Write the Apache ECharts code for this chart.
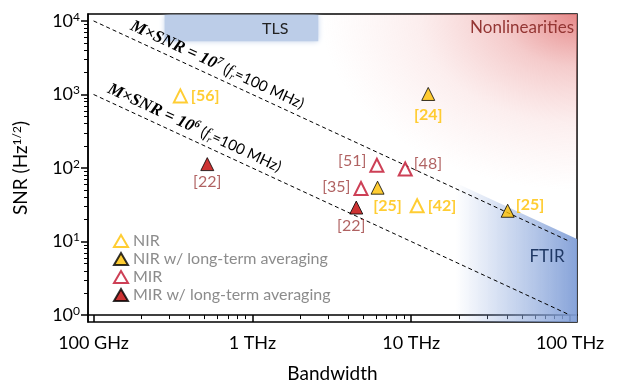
<!DOCTYPE html>
<html>
<head>
<meta charset="utf-8">
<script src="https://cdn.jsdelivr.net/npm/echarts@6/dist/echarts.min.js"></script>
<style>
  html, body { margin: 0; padding: 0; background: #fff; }
  #chart { width: 624px; height: 388px; }
</style>
</head>
<body>
<div id="chart"></div>
<script>
// bandwidth in THz, SNR in Hz^1/2
const nirOpenBw = [0.352, 10.9];
const nirOpenSnr = [955, 30.6];
const nirOpenRefs = ['[56]', '[42]'];

const nirAvgBw = [12.8, 6.14, 40.5];
const nirAvgSnr = [1016, 54, 26.2];
const nirAvgRefs = ['[24]', '[25]', '[25]'];

const mirOpenBw = [6.08, 9.17, 4.83];
const mirOpenSnr = [109, 97, 52.7];
const mirOpenRefs = ['[51]', '[48]', '[35]'];

const mirAvgBw = [0.52, 4.51];
const mirAvgSnr = [113, 29];
const mirAvgRefs = ['[22]', '[22]'];

// M x SNR guide lines (fr = 100 MHz)
const guideProducts = [1e7, 1e6];
const guideExps = ['7', '6'];
const guideBwRange = [0.1, 100]; // THz
const repRate = 1e8;

const xTickVals = [11, 12, 13, 14];
const xTickLabels = ['100 GHz', '1 THz', '10 THz', '100 THz'];
const yTickVals = [0, 1, 2, 3, 4];

// shaded regimes
const tlsBw = [0.28, 2.6];      // THz
const tlsSnrFloor = 5300;
const ftirBwStart = 19;         // THz
const ftirEdgeProduct = 1.2e7;
const nlFadeTopBw = 2.7;        // THz, red fades out along top edge here
const nlFadeRightSnr = 50;      // red fades out along right edge here

const xMin = 10.965, xMax = 14.044, yMin = -0.094, yMax = 4.094;
const lg = Math.log10;
const fontSans = 'Lato';

const minorX = [];
const minorY = [];
for (let d = 11; d < 14; d++) for (let k = 2; k <= 9; k++) minorX.push(d + lg(k));
for (let d = 0; d < 4; d++) for (let k = 2; k <= 9; k++) minorY.push(d + lg(k));

const orange = '#ffc000';
const crimson = '#c0102c';
const darkRed = '#c00000';
const mirLabel = '#9c3b3b';

function pts(bw, snr, refs, places, color, bold) {
  return bw.map((b, i) => ({
    value: [lg(b * 1e12), lg(snr[i])],
    name: refs[i],
    label: {
      show: true,
      formatter: refs[i],
      position: places[i][0],
      offset: places[i][1],
      distance: 3,
      color: color,
      fontFamily: fontSans,
      fontSize: 16,
      fontWeight: bold ? 'bold' : 'normal'
    }
  }));
}

const nirOpenPlace = [['right', [0, 0]], ['right', [0, 0]]];
const nirAvgPlace = [['bottom', [0, 3]], ['bottom', [10, 0]], ['right', [-2, -6]]];
const mirOpenPlace = [['left', [0, -4]], ['right', [-2, -5]], ['left', [0, -2]]];
const mirAvgPlace = [['bottom', [0, 0]], ['bottom', [-5, 0]]];

function guideLine(i) {
  const f0 = guideBwRange[0] * 1e12, f1 = guideBwRange[1] * 1e12;
  return [
    { coord: [lg(f0), lg(guideProducts[i] * repRate / f0)],
      label: { distance: i === 0 ? [36, 2] : [11, 2] } },
    { coord: [lg(f1), lg(guideProducts[i] * repRate / f1)] }
  ];
}

function regions(params, api) {
  const tl = api.coord([xMin, yMax]);
  const br = api.coord([xMax, yMin]);
  const W = br[0] - tl[0], H = br[1] - tl[1];
  // nonlinearities: elliptical red wash from top-right corner
  const c = api.coord([xMax, yMax]);
  const rx = c[0] - api.coord([lg(nlFadeTopBw * 1e12), yMax])[0];
  const ry = api.coord([xMax, lg(nlFadeRightSnr)])[1] - c[1];
  const sy = ry / rx;
  // TLS band
  const t0 = api.coord([lg(tlsBw[0] * 1e12), yMax]);
  const t1 = api.coord([lg(tlsBw[1] * 1e12), lg(tlsSnrFloor)]);
  // FTIR
  const fx = lg(ftirBwStart * 1e12);
  const fy = lg(ftirEdgeProduct * repRate) - fx;
  const ey = lg(ftirEdgeProduct * repRate) - xMax;
  const q0 = api.coord([fx, fy]);
  const q1 = api.coord([xMax, ey]);
  const q2 = api.coord([xMax, yMin]);
  const q3 = api.coord([fx, yMin]);
  return {
    type: 'group',
    children: [
      {
        type: 'rect',
        originX: c[0], originY: c[1], scaleY: sy,
        shape: { x: tl[0], y: c[1], width: W, height: H / sy },
        style: {
          fill: {
            type: 'radial', global: true, x: c[0], y: c[1], r: rx,
            colorStops: [
              { offset: 0, color: 'rgba(226,120,120,0.88)' },
              { offset: 0.3, color: 'rgba(230,132,132,0.42)' },
              { offset: 0.62, color: 'rgba(236,150,150,0.16)' },
              { offset: 1, color: 'rgba(240,170,170,0)' }
            ]
          }
        }
      },
      {
        type: 'polygon',
        shape: { points: [q0, q1, q2, q3] },
        style: {
          fill: {
            type: 'linear', global: true,
            x: q0[0], y: 0, x2: q1[0], y2: 0,
            colorStops: [
              { offset: 0, color: 'rgba(140,168,220,0)' },
              { offset: 0.5, color: 'rgba(140,168,220,0.5)' },
              { offset: 1, color: 'rgba(128,158,215,0.95)' }
            ]
          }
        }
      },
      {
        type: 'rect',
        shape: { x: t0[0], y: t0[1] + 1, width: t1[0] - t0[0], height: t1[1] - t0[1] - 1 },
        style: { fill: '#bccde8', shadowBlur: 6, shadowColor: '#bccde8' }
      },
      {
        type: 'text',
        style: { text: 'TLS', x: t0[0] + (t1[0] - t0[0]) * 0.72, y: (t0[1] + t1[1]) / 2 + 1,
          align: 'center', verticalAlign: 'middle', fill: '#222',
          font: '16px ' + fontSans }
      },
      {
        type: 'text',
        style: { text: 'Nonlinearities', x: c[0] - 3, y: c[1] + 14,
          align: 'right', verticalAlign: 'middle', fill: '#943634',
          font: '17px ' + fontSans }
      },
      {
        type: 'text',
        style: { text: 'FTIR', x: q1[0] - 30, y: q2[1] - 65,
          align: 'center', verticalAlign: 'middle', fill: '#1f3864',
          font: '17px ' + fontSans }
      }
    ]
  };
}

const chart = echarts.init(document.getElementById('chart'));
const axisBlack = { color: '#000', width: 1.5 };

chart.setOption({
  animation: false,
  grid: { left: 88, right: 47, top: 14, bottom: 62, show: true, borderColor: '#000', borderWidth: 1.5 },
  legend: {
    data: ['NIR', 'NIR w/ long-term averaging', 'MIR', 'MIR w/ long-term averaging'],
    orient: 'vertical', left: 113, top: 233, padding: 0,
    itemWidth: 14, itemHeight: 12, itemGap: 2,
    textStyle: { color: '#8c8c8c', fontSize: 16, lineHeight: 14, fontFamily: fontSans },
    selectedMode: false
  },
  xAxis: [
    {
      type: 'value', min: xMin, max: xMax, position: 'bottom',
      axisLine: { show: true, lineStyle: axisBlack },
      axisTick: { customValues: xTickVals, length: 7, lineStyle: axisBlack },
      axisLabel: {
        customValues: xTickVals, margin: 12, color: '#000', fontSize: 18, fontFamily: fontSans,
        formatter: v => xTickLabels[xTickVals.indexOf(Math.round(v))]
      },
      splitLine: { show: false },
      name: 'Bandwidth', nameLocation: 'middle', nameGap: 42,
      nameTextStyle: { color: '#000', fontSize: 19, fontFamily: fontSans }
    },
    {
      type: 'value', min: xMin, max: xMax, position: 'bottom',
      axisLine: { show: false },
      axisTick: { customValues: minorX, length: 4, lineStyle: { color: '#000', width: 1 } },
      axisLabel: { show: false }, splitLine: { show: false }
    }
  ],
  yAxis: [
    {
      type: 'value', min: yMin, max: yMax, position: 'left',
      axisLine: { show: true, lineStyle: axisBlack },
      axisTick: { customValues: yTickVals, length: 7, lineStyle: axisBlack },
      axisLabel: {
        customValues: yTickVals, margin: 8, color: '#000', fontFamily: fontSans,
        formatter: v => '{b|10}{s|' + Math.round(v) + '}',
        rich: {
          b: { fontSize: 18, fontFamily: fontSans, color: '#000', lineHeight: 20 },
          s: { fontSize: 12, fontFamily: fontSans, color: '#000', lineHeight: 12, verticalAlign: 'top' }
        }
      },
      splitLine: { show: false },
      name: 'SNR (Hz{s|1/2})', nameLocation: 'middle', nameGap: 58,
      nameTextStyle: {
        color: '#000', fontSize: 19, fontFamily: fontSans,
        rich: { s: { fontSize: 12, fontFamily: fontSans, color: '#000', verticalAlign: 'top', lineHeight: 12 } }
      }
    },
    {
      type: 'value', min: yMin, max: yMax, position: 'left',
      axisLine: { show: false },
      axisTick: { customValues: minorY, length: 4, lineStyle: { color: '#000', width: 1 } },
      axisLabel: { show: false }, splitLine: { show: false }
    }
  ],
  series: [
    {
      type: 'custom', name: 'regions', z: 1, silent: true,
      renderItem: regions, data: [[0]], clip: true
    },
    {
      type: 'line', name: 'guides', z: 3, data: [], silent: true,
      markLine: {
        silent: true, symbol: ['none', 'none'],
        lineStyle: { color: '#000', type: [4, 3], width: 1 },
        label: {
          show: true, position: 'insideStartTop',
          formatter: p => '{mi|M×SNR = 10}{sp|' + guideExps[p.dataIndex] + '}{t| (}{fi|f}{sb|r}{t|=100 MHz)}',
          rich: {
            mi: { fontFamily: 'Liberation Serif', fontStyle: 'italic', fontWeight: 'bold', fontSize: 17, color: '#000', lineHeight: 20 },
            sp: { fontFamily: 'Liberation Serif', fontStyle: 'italic', fontWeight: 'bold', fontSize: 11, color: '#000', verticalAlign: 'top', lineHeight: 11 },
            t: { fontFamily: fontSans, fontSize: 15, color: '#000' },
            fi: { fontFamily: 'Liberation Serif', fontStyle: 'italic', fontSize: 16, color: '#000' },
            sb: { fontFamily: 'Liberation Serif', fontStyle: 'italic', fontSize: 10, color: '#000', verticalAlign: 'bottom', lineHeight: 10 }
          }
        },
        data: [guideLine(0), guideLine(1)]
      }
    },
    {
      type: 'scatter', name: 'NIR', z: 5, symbol: 'triangle', symbolSize: 13,
      itemStyle: { color: '#fff', borderColor: orange, borderWidth: 2 },
      data: pts(nirOpenBw, nirOpenSnr, nirOpenRefs, nirOpenPlace, orange, true)
    },
    {
      type: 'scatter', name: 'NIR w/ long-term averaging', z: 5, symbol: 'triangle', symbolSize: 13,
      itemStyle: { color: orange, borderColor: '#000', borderWidth: 1 },
      data: pts(nirAvgBw, nirAvgSnr, nirAvgRefs, nirAvgPlace, orange, true)
    },
    {
      type: 'scatter', name: 'MIR', z: 5, symbol: 'triangle', symbolSize: 13,
      itemStyle: { color: '#fff', borderColor: crimson, borderWidth: 2 },
      data: pts(mirOpenBw, mirOpenSnr, mirOpenRefs, mirOpenPlace, mirLabel, false)
    },
    {
      type: 'scatter', name: 'MIR w/ long-term averaging', z: 5, symbol: 'triangle', symbolSize: 13,
      itemStyle: { color: darkRed, borderColor: '#000', borderWidth: 1 },
      data: pts(mirAvgBw, mirAvgSnr, mirAvgRefs, mirAvgPlace, mirLabel, false)
    }
  ]
});
</script>
</body>
</html>
